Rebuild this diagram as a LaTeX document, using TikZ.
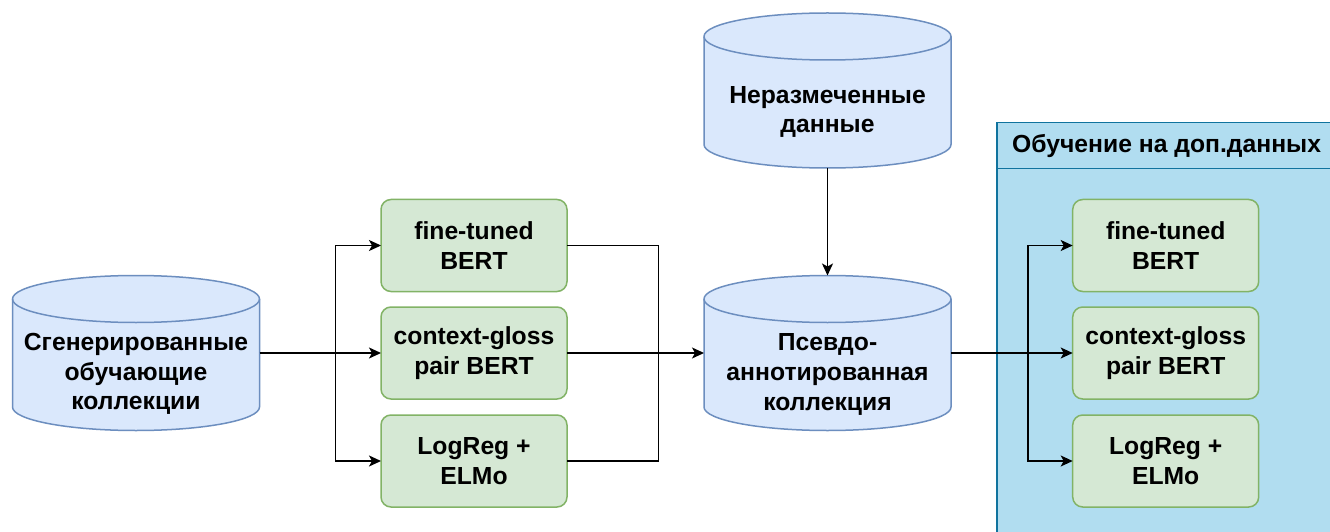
\documentclass[tikz,border=0pt]{standalone}
\usepackage{fontspec}
\setmainfont{Liberation Sans}
\usetikzlibrary{arrows.meta,calc}
\definecolor{cylfill}{HTML}{DAE8FC}
\definecolor{cyldraw}{HTML}{6C8EBF}
\definecolor{boxfill}{HTML}{D5E8D4}
\definecolor{boxdraw}{HTML}{82B366}
\definecolor{panfill}{HTML}{B1DDF0}
\definecolor{pandraw}{HTML}{10739E}
\newcommand\dbshape[1]{%
  \path[fill=cylfill,draw=cyldraw,line width=1.5pt]
    ($(#1.north west)+(0,-23.5)$) -- ($(#1.south west)+(0,23.5)$)
    arc[start angle=180,end angle=360,x radius=123.5,y radius=23.5]
    -- ($(#1.north east)+(0,-23.5)$)
    arc[start angle=0,end angle=180,x radius=123.5,y radius=23.5] -- cycle;
  \draw[draw=cyldraw,line width=1.5pt] ($(#1.north west)+(0,-23.5)$)
    arc[start angle=180,end angle=360,x radius=123.5,y radius=23.5];
}
\begin{document}
\begin{tikzpicture}[x=1pt,y=1pt,
  lbl/.style={font=\bfseries\fontsize{24.7}{29.7}\selectfont,align=center,text=black,inner sep=0pt},
  cylnode/.style={shape=rectangle,minimum width=247pt,minimum height=155pt,inner sep=0pt,outer sep=0pt},
  mbox/.style={lbl,shape=rectangle,rounded corners=10pt,draw=boxdraw,fill=boxfill,line width=1.5pt,
     minimum width=186pt,minimum height=92pt,outer sep=0pt},
  arr/.style={draw=black,line width=1.5pt,-{Stealth[length=12pt,width=11pt,inset=3pt]}},
  ln/.style={draw=black,line width=1.5pt}]
\useasboundingbox (0,0) rectangle (1330,531);
\clip (0,0) rectangle (1330,531);
\fill[white] (0,0) rectangle (1330,531);
% panel
\draw[fill=panfill,draw=pandraw,line width=1.5pt] (997,408.3) rectangle (1350,-20);
\draw[draw=pandraw,line width=1.5pt] (997,362.7) -- (1350,362.7);
\node[lbl,anchor=west] (ptitle) at (1012,384.5) {Обучение на доп.данных};
% cylinders
\node[cylnode] (cylL) at (136,178) {};
\node[cylnode] (cylT) at (827.5,440.5) {};
\node[cylnode] (cylM) at (827.5,178) {};
\dbshape{cylL}
\dbshape{cylT}
\dbshape{cylM}
\node[lbl] (tL) at ($(cylL.center)+(0,-21)$) {Сгенерированные\\обучающие\\коллекции};
\node[lbl] (tT) at ($(cylT.center)+(0,-21.5)$) {Неразмеченные\\данные};
\node[lbl] (tM) at ($(cylM.center)+(0,-21.5)$) {Псевдо-\\аннотированная\\коллекция};
% boxes
\node[mbox] (b1) at (474,285.5) {fine-tuned\\BERT};
\node[mbox] (b2) at (474,178) {context-gloss\\pair BERT};
\node[mbox] (b3) at (474,70) {LogReg +\\ELMo};
\node[mbox] (c1) at (1165.7,285.5) {fine-tuned\\BERT};
\node[mbox] (c2) at (1165.7,178) {context-gloss\\pair BERT};
\node[mbox] (c3) at (1165.7,70) {LogReg +\\ELMo};
% connectors
\coordinate (fl) at (335.5,178);
\coordinate (fr) at (658.5,178);
\coordinate (fp) at (1028,178);
\draw[arr] (cylL.east) -- (b2.west);
\draw[arr] (fl) |- (b1.west);
\draw[arr] (fl) |- (b3.west);
\draw[ln] (b1.east) -| (fr);
\draw[ln] (b3.east) -| (fr);
\draw[arr] (b2.east) -- (cylM.west);
\draw[arr] (cylT.south) -- (cylM.north);
\draw[arr] (cylM.east) -- (c2.west);
\draw[arr] (fp) |- (c1.west);
\draw[arr] (fp) |- (c3.west);
\end{tikzpicture}
\end{document}
